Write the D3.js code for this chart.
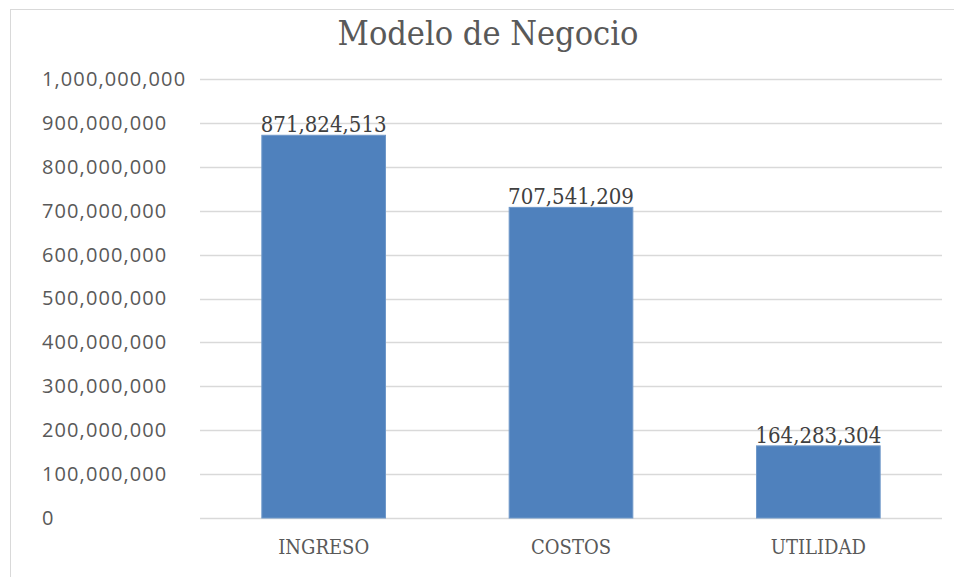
<!DOCTYPE html>
<html>
<head>
  <script src="https://d3js.org/d3.v7.min.js"></script>
  <style>
    body { margin: 0; background: #fff; }
    .tick text { fill: #595959; }
  </style>
</head>
<body>
  <div id="chart"></div>
  <script>
    // data
    const categories = ["INGRESO", "COSTOS", "UTILIDAD"];
    const values = [871824513, 707541209, 164283304];
    const yTicks = [0, 100000000, 200000000, 300000000, 400000000, 500000000,
                    600000000, 700000000, 800000000, 900000000, 1000000000];

    const W = 954, H = 577;
    const margin = { top: 79, right: 12, bottom: 59, left: 200 };
    const width = W - margin.left - margin.right;
    const height = H - margin.top - margin.bottom;

    const svg = d3.select("#chart").append("svg")
      .attr("width", W).attr("height", H);

    // chart frame
    svg.append("rect")
      .attr("x", 10.5).attr("y", 9.5)
      .attr("width", W - 10).attr("height", H)
      .attr("fill", "none").attr("stroke", "#d9d9d9");

    svg.append("text")
      .attr("x", 488).attr("y", 45)
      .attr("text-anchor", "middle")
      .style("font-family", "'DejaVu Serif Condensed', 'DejaVu Serif', serif")
      .style("font-size", "34px")
      .style("fill", "#595959")
      .text("Modelo de Negocio");

    const g = svg.append("g")
      .attr("transform", "translate(" + margin.left + "," + margin.top + ")");

    const x = d3.scaleBand()
      .domain(categories)
      .range([0, width])
      .paddingInner(0.5)
      .paddingOuter(0.25);

    const y = d3.scaleLinear()
      .domain([0, 1000000000])
      .range([height, 0]);

    // gridlines
    g.append("g")
      .selectAll("line")
      .data(yTicks)
      .enter().append("line")
      .attr("x1", 0).attr("x2", width)
      .attr("y1", d => Math.round(y(d)) + 0.5)
      .attr("y2", d => Math.round(y(d)) + 0.5)
      .attr("stroke", "#d9d9d9")
      .attr("stroke-width", 1.3);

    // y axis labels (left aligned like the original)
    const yAxis = g.append("g")
      .call(d3.axisLeft(y).tickValues(yTicks).tickFormat(d3.format(",")).tickSize(0));
    yAxis.select(".domain").remove();
    yAxis.selectAll("text")
      .attr("text-anchor", "start")
      .attr("x", 42 - margin.left)
      .style("font-family", "'Open Sans', 'Noto Sans', sans-serif")
      .style("font-size", "20px")
      .style("letter-spacing", "1.1px");

    // bars
    g.selectAll(".bar")
      .data(values)
      .enter().append("rect")
      .attr("class", "bar")
      .attr("x", (d, i) => x(categories[i]))
      .attr("y", d => y(d))
      .attr("width", x.bandwidth())
      .attr("height", d => height - y(d))
      .attr("fill", "#4f81bd")
      .attr("stroke", "#6f98c9")
      .attr("stroke-width", 1);

    // data labels
    g.selectAll(".label")
      .data(values)
      .enter().append("text")
      .attr("x", (d, i) => x(categories[i]) + x.bandwidth() / 2)
      .attr("y", d => y(d) - 3)
      .attr("text-anchor", "middle")
      .style("font-family", "'DejaVu Serif Condensed', 'DejaVu Serif', serif")
      .style("font-size", "22px")
      .style("fill", "#404040")
      .text(d => d3.format(",")(d));

    // x axis labels
    const xAxis = g.append("g")
      .attr("transform", "translate(0," + height + ")")
      .call(d3.axisBottom(x).tickSize(0).tickPadding(22));
    xAxis.select(".domain").remove();
    xAxis.selectAll("text")
      .style("font-family", "'DejaVu Serif Condensed', 'DejaVu Serif', serif")
      .style("font-size", "20px");
  </script>
</body>
</html>
